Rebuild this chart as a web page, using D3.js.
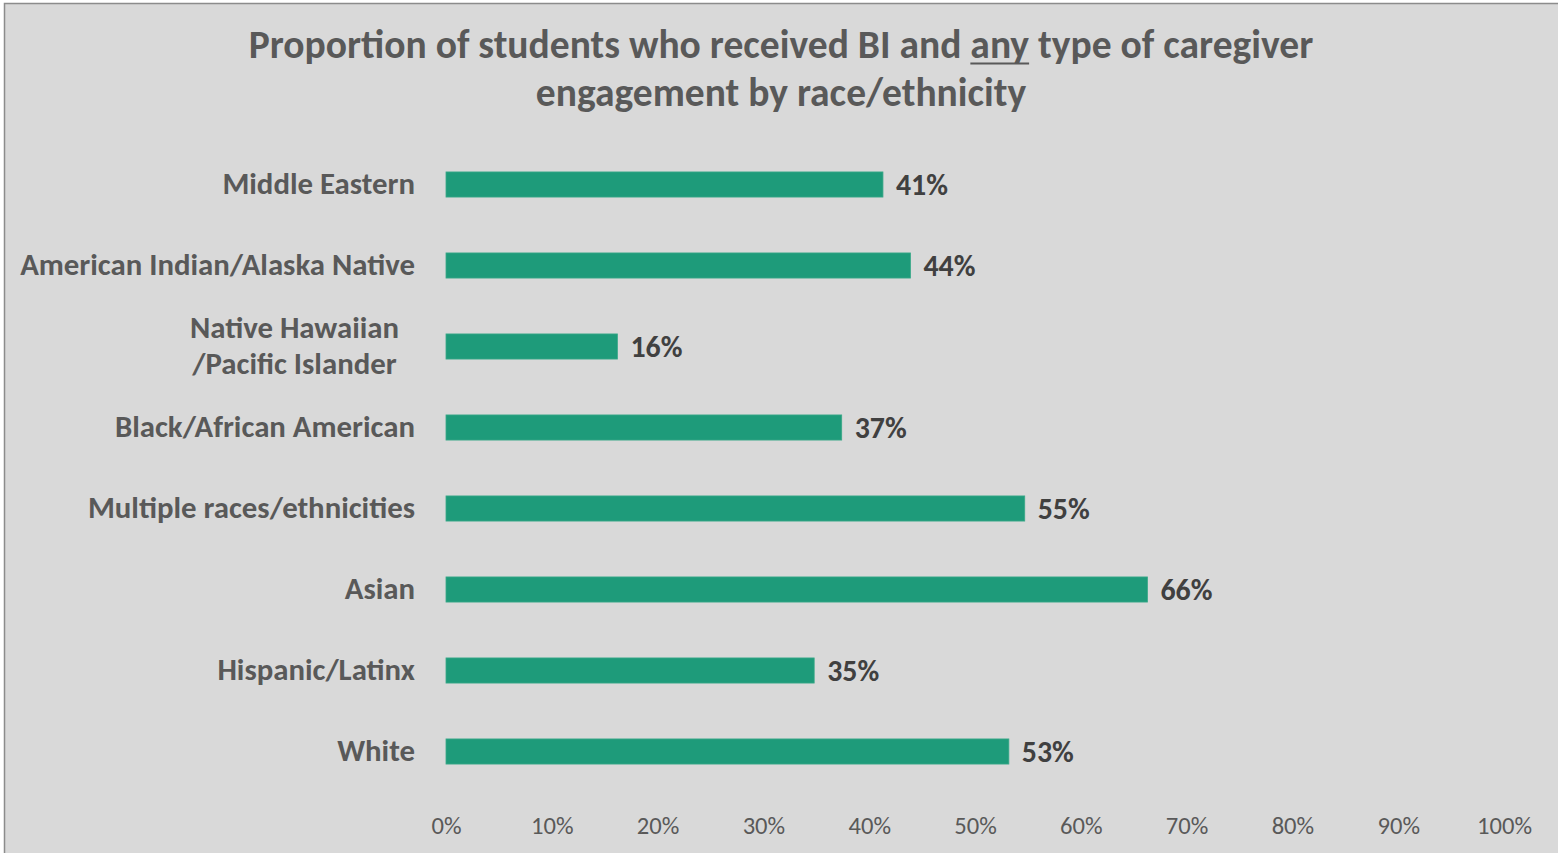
<!DOCTYPE html>
<html>
<head>
<meta charset="utf-8">
<script src="https://cdn.jsdelivr.net/npm/d3@7"></script>
<style>
  html, body { margin: 0; padding: 0; background: #ffffff; overflow: hidden; }
  svg { display: block; }
</style>
</head>
<body>
<svg id="chart" width="1558" height="853"></svg>
<script>
// ---- data ----
const titleLine1 = ["Proportion of students who received BI and ", "any", " type of caregiver"];
const titleLine2 = "engagement by race/ethnicity";
const categories = [
  "Middle Eastern",
  "American Indian/Alaska Native",
  "Native Hawaiian\n/Pacific Islander",
  "Black/African American",
  "Multiple races/ethnicities",
  "Asian",
  "Hispanic/Latinx",
  "White"
];
const values = [41.3, 43.9, 16.2, 37.4, 54.7, 66.3, 34.8, 53.2];
const tickValues = [0, 10, 20, 30, 40, 50, 60, 70, 80, 90, 100];

// ---- layout ----
const W = 1558, H = 853;
const FONT = "Carlito, Calibri, Lato, 'Open Sans', sans-serif";
const svg = d3.select("#chart");

svg.append("rect").attr("x", 4.5).attr("y", 3.5).attr("width", W + 10).attr("height", H + 10)
  .attr("fill", "#d9d9d9").attr("stroke", "#8c8c8c").attr("stroke-width", 1.5);

// helper: font size so that a text has the given width
function fitSize(text, weight, target) {
  const t = svg.append("text").attr("font-family", FONT).attr("font-weight", weight)
    .attr("font-size", 100).text(text);
  const w = t.node().getComputedTextLength();
  t.remove();
  return 100 * target / w;
}

const titleSize = fitSize(titleLine1.join(""), "bold", 1065);
const catSize = fitSize("American Indian/Alaska Native", "bold", 395);
const valSize = fitSize("41%", "bold", 52);
const tickSize = fitSize("100%", "normal", 55);

const x = d3.scaleLinear().domain([0, 100]).range([446, 1504]);
const y = d3.scaleBand().domain(categories).range([144, 792]).paddingInner(0.69).paddingOuter(0.345);

// ---- title ----
const t1 = svg.append("text").attr("x", 781).attr("y", 57.5)
  .attr("text-anchor", "middle").attr("font-family", FONT).attr("font-weight", "bold")
  .attr("font-size", titleSize).attr("fill", "#595959").text(titleLine1.join(""));
{
  const startIdx = titleLine1[0].length;
  const endIdx = startIdx + titleLine1[1].length - 1;
  const n = t1.node();
  const x0 = n.getStartPositionOfChar(startIdx).x;
  const x1 = n.getEndPositionOfChar(endIdx).x;
  svg.append("line").attr("x1", x0).attr("x2", x1).attr("y1", 63.5).attr("y2", 63.5)
    .attr("stroke", "#595959").attr("stroke-width", 2);
}
svg.append("text").attr("x", 781).attr("y", 105.5)
  .attr("text-anchor", "middle").attr("font-family", FONT).attr("font-weight", "bold")
  .attr("font-size", titleSize).attr("fill", "#595959").text(titleLine2);

// ---- bars ----
svg.append("g").selectAll("rect").data(categories).join("rect")
  .attr("x", x(0))
  .attr("y", d => y(d))
  .attr("width", (d, i) => x(values[i]) - x(0))
  .attr("height", y.bandwidth())
  .attr("fill", "#1e9b7a")
  .attr("stroke", "#3aa888").attr("stroke-width", 0.8);

// ---- value labels ----
svg.append("g").selectAll("text").data(categories).join("text")
  .attr("x", (d, i) => x(values[i]) + 13)
  .attr("y", d => y(d) + y.bandwidth() / 2 + 10)
  .attr("font-family", FONT).attr("font-weight", "bold").attr("font-size", valSize)
  .attr("fill", "#404040")
  .text((d, i) => Math.round(values[i]) + "%");

// ---- category labels ----
const cats = svg.append("g").selectAll("text").data(categories).join("text")
  .attr("font-family", FONT).attr("font-weight", "bold").attr("font-size", catSize)
  .attr("fill", "#595959");
cats.each(function(d) {
  const lines = d.split("\n");
  const el = d3.select(this);
  const cy = y(d) + y.bandwidth() / 2;
  if (lines.length === 1) {
    el.attr("x", 415).attr("y", cy + 9).attr("text-anchor", "end").text(d);
  } else {
    el.attr("text-anchor", "middle");
    const ts = lines.map((s, i) => el.append("tspan").text(s));
    const maxW = d3.max(ts, t => t.node().getComputedTextLength());
    const cx = 399 - maxW / 2;
    ts.forEach((t, i) => t.attr("x", cx).attr("y", cy - 9 + i * 36));
  }
});

// ---- x axis ----
const axis = d3.axisBottom(x).tickValues(tickValues).tickFormat(d => d + "%").tickSize(0).tickPadding(0);
const ax = svg.append("g").attr("transform", "translate(0,817)").call(axis);
ax.select(".domain").remove();
ax.selectAll("text").attr("font-family", FONT).attr("font-size", tickSize)
  .attr("fill", "#595959").attr("dy", "0.71em");
</script>
</body>
</html>
